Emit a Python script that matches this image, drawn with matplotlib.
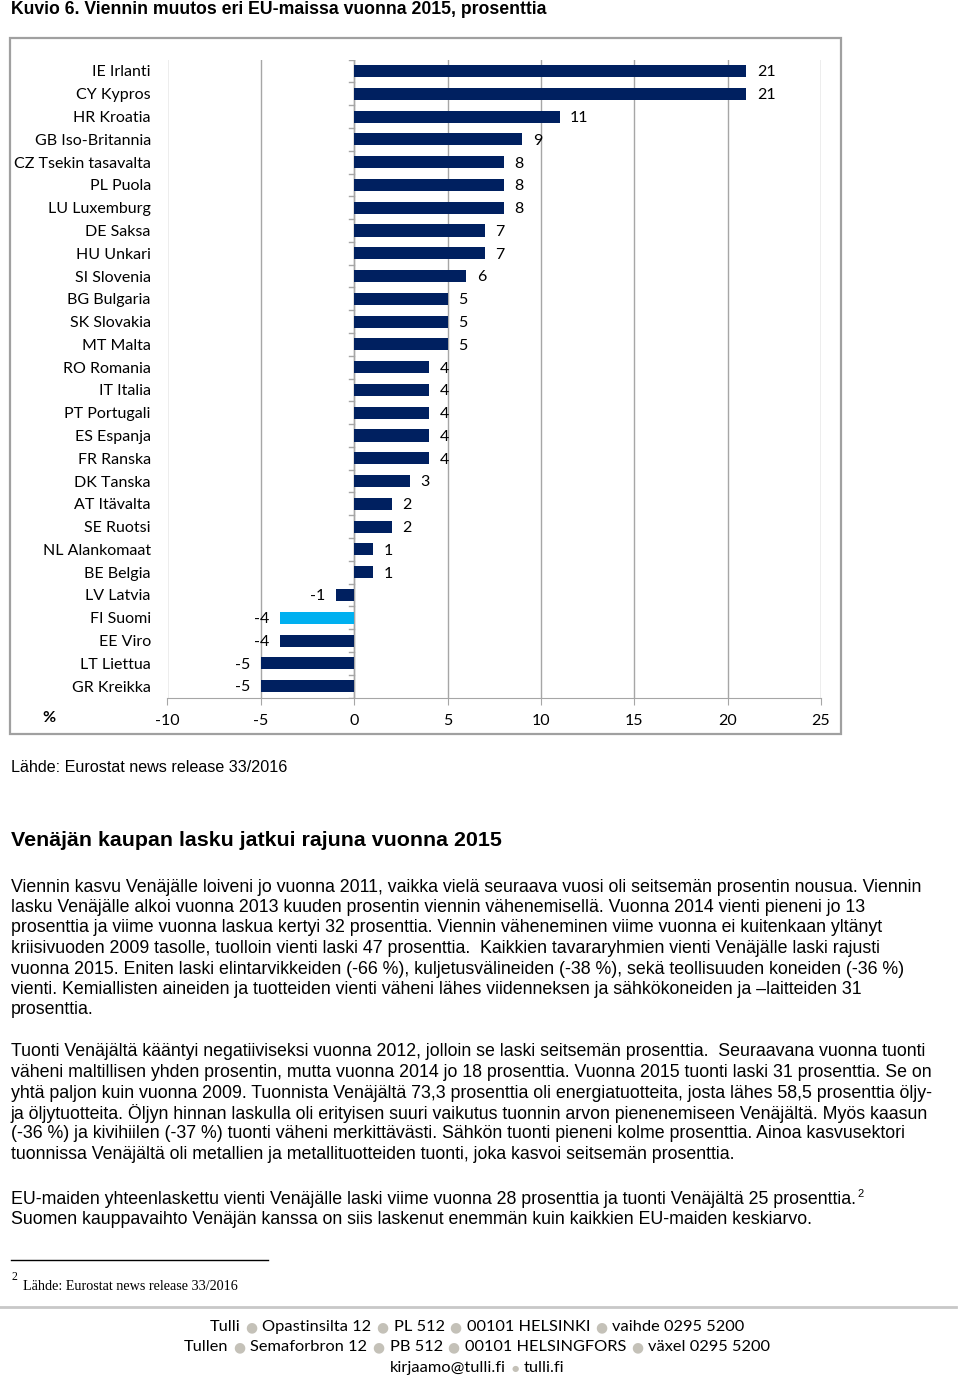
import matplotlib
matplotlib.use("Agg")
import matplotlib.pyplot as plt
from matplotlib.patches import Rectangle
from matplotlib.lines import Line2D

W, H = 960, 1379

countries = ["IE Irlanti", "CY Kypros", "HR Kroatia", "GB Iso-Britannia",
             "CZ Tsekin tasavalta", "PL Puola", "LU Luxemburg", "DE Saksa",
             "HU Unkari", "SI Slovenia", "BG Bulgaria", "SK Slovakia",
             "MT Malta", "RO Romania", "IT Italia", "PT Portugali",
             "ES Espanja", "FR Ranska", "DK Tanska", "AT Itävalta",
             "SE Ruotsi", "NL Alankomaat", "BE Belgia", "LV Latvia",
             "FI Suomi", "EE Viro", "LT Liettua", "GR Kreikka"]
values = [21, 21, 11, 9, 8, 8, 8, 7, 7, 6, 5, 5, 5, 4, 4, 4, 4, 4, 3, 2, 2,
          1, 1, -1, -4, -4, -5, -5]
highlight = "FI Suomi"
xticks = [-10, -5, 0, 5, 10, 15, 20, 25]

navy = "#002060"
light_blue = "#00b0f0"
grid_gray = "#a6a6a6"

title = "Kuvio 6. Viennin muutos eri EU-maissa vuonna 2015, prosenttia"
source = "Lähde: Eurostat news release 33/2016"
heading = "Venäjän kaupan lasku jatkui rajuna vuonna 2015"

para1 = [
    "Viennin kasvu Venäjälle loiveni jo vuonna 2011, vaikka vielä seuraava vuosi oli seitsemän prosentin nousua. Viennin",
    "lasku Venäjälle alkoi vuonna 2013 kuuden prosentin viennin vähenemisellä. Vuonna 2014 vienti pieneni jo 13",
    "prosenttia ja viime vuonna laskua kertyi 32 prosenttia. Viennin väheneminen viime vuonna ei kuitenkaan yltänyt",
    "kriisivuoden 2009 tasolle, tuolloin vienti laski 47 prosenttia.  Kaikkien tavararyhmien vienti Venäjälle laski rajusti",
    "vuonna 2015. Eniten laski elintarvikkeiden (-66 %), kuljetusvälineiden (-38 %), sekä teollisuuden koneiden (-36 %)",
    "vienti. Kemiallisten aineiden ja tuotteiden vienti väheni lähes viidenneksen ja sähkökoneiden ja \u2013laitteiden 31",
    "prosenttia.",
]
para2 = [
    "Tuonti Venäjältä kääntyi negatiiviseksi vuonna 2012, jolloin se laski seitsemän prosenttia.  Seuraavana vuonna tuonti",
    "väheni maltillisen yhden prosentin, mutta vuonna 2014 jo 18 prosenttia. Vuonna 2015 tuonti laski 31 prosenttia. Se on",
    "yhtä paljon kuin vuonna 2009. Tuonnista Venäjältä 73,3 prosenttia oli energiatuotteita, josta lähes 58,5 prosenttia öljy-",
    "ja öljytuotteita. Öljyn hinnan laskulla oli erityisen suuri vaikutus tuonnin arvon pienenemiseen Venäjältä. Myös kaasun",
    "(-36 %) ja kivihiilen (-37 %) tuonti väheni merkittävästi. Sähkön tuonti pieneni kolme prosenttia. Ainoa kasvusektori",
    "tuonnissa Venäjältä oli metallien ja metallituotteiden tuonti, joka kasvoi seitsemän prosenttia.",
]
para3 = [
    "EU-maiden yhteenlaskettu vienti Venäjälle laski viime vuonna 28 prosenttia ja tuonti Venäjältä 25 prosenttia.",
    "Suomen kauppavaihto Venäjän kanssa on siis laskenut enemmän kuin kaikkien EU-maiden keskiarvo.",
]
footnote = "Lähde: Eurostat news release 33/2016"
footer1 = ["Tulli", "Opastinsilta 12", "PL 512", "00101 HELSINKI", "vaihde 0295 5200"]
footer2 = ["Tullen", "Semaforbron 12", "PB 512", "00101 HELSINGFORS", "växel 0295 5200"]
footer3 = ["kirjaamo@tulli.fi", "tulli.fi"]


def fx(x):
    return x / W


def fy(y):
    return 1 - y / H


fig = plt.figure(figsize=(W / 100, H / 100), dpi=100)
fig.patch.set_facecolor("white")

chart_font = ["Lato", "DejaVu Sans"]
body_font = "Liberation Sans"

# frame of the chart
fig.patches.append(Rectangle((fx(10), fy(734)), fx(841) - fx(10), fy(38) - fy(734),
                             transform=fig.transFigure, fill=False,
                             edgecolor="#a0a0a0", linewidth=1.6))

# bar chart
ax = fig.add_axes([fx(167.5), fy(697.5), fx(821) - fx(167.5), fy(59.6) - fy(697.5)])
n = len(countries)
ypos = list(range(n))
colors = [light_blue if c == highlight else navy for c in countries]
ax.barh(ypos, values, height=0.53, color=colors, zorder=3)
ax.set_ylim(n - 0.5, -0.5)
ax.set_xlim(xticks[0], xticks[-1])
ax.set_xticks(xticks)
ax.set_xticklabels([str(t) for t in xticks], fontfamily=chart_font, fontsize=11.5)
ax.set_yticks(ypos)
ax.set_yticklabels(countries, fontfamily=chart_font, fontsize=11.5)
ax.tick_params(axis="y", length=0, pad=12)
ax.tick_params(axis="x", length=5, color=grid_gray, pad=7)
for s in ["top", "right", "left"]:
    ax.spines[s].set_visible(False)
ax.spines["bottom"].set_color(grid_gray)
ax.grid(axis="x", color=grid_gray, linewidth=1, zorder=1)

# vertical axis at zero with small ticks between categories
ax.axvline(0, color=grid_gray, linewidth=1, zorder=2)
for b in range(n + 1):
    ax.plot([-0.28, 0], [b - 0.5, b - 0.5], color=grid_gray, linewidth=1, zorder=2)

for y, v in zip(ypos, values):
    if v >= 0:
        ax.annotate(str(v), (v, y), xytext=(7.5, -1), textcoords="offset points",
                    ha="left", va="center", fontfamily=chart_font, fontsize=11.5, zorder=4)
    else:
        ax.annotate(str(v), (v, y), xytext=(-7.5, -1), textcoords="offset points",
                    ha="right", va="center", fontfamily=chart_font, fontsize=11.5, zorder=4)

fig.text(fx(42), fy(718), "%", fontfamily=chart_font, fontsize=11.5, fontweight="bold",
         va="center", ha="left")

# page texts
fig.text(fx(11), fy(14.5), title, fontfamily=body_font, fontsize=12.7, fontweight="bold",
         va="baseline", ha="left")
fig.text(fx(11), fy(768), source, fontfamily=body_font, fontsize=11.6, va="center", ha="left")
fig.text(fx(11), fy(840), heading, fontfamily=body_font, fontsize=15.4, fontweight="bold",
         va="center", ha="left")

body_size = 12.8
line_gap = 20.5
for i, line in enumerate(para1):
    fig.text(fx(11), fy(887 + i * line_gap), line, fontfamily=body_font, fontsize=body_size,
             va="center", ha="left")
for i, line in enumerate(para2):
    fig.text(fx(11), fy(1052 + i * line_gap), line, fontfamily=body_font, fontsize=body_size,
             va="center", ha="left")
p3 = []
for i, line in enumerate(para3):
    p3.append(fig.text(fx(11), fy(1199 + i * line_gap), line, fontfamily=body_font,
                       fontsize=body_size, va="center", ha="left"))

renderer = fig.canvas.get_renderer()
ext = p3[0].get_window_extent(renderer)
fig.text(ext.x1 / W + 0.001, fy(1194), "2", fontfamily=body_font, fontsize=8,
         va="center", ha="left")

# footnote
fig.add_artist(Line2D([fx(11), fx(268)], [fy(1260), fy(1260)], color="black", linewidth=1))
fig.text(fx(11), fy(1277), "2", fontfamily="Liberation Serif", fontsize=8.5, va="center", ha="left")
fig.text(fx(23), fy(1286), footnote, fontfamily="Liberation Serif", fontsize=10.2,
         va="center", ha="left")

fig.add_artist(Line2D([0, fx(956)], [fy(1307), fy(1307)], color="#c8c8c8", linewidth=2))


def footer_line(parts, y, size, dot_size, gap=5):
    items = []
    for i, p in enumerate(parts):
        if i > 0:
            items.append(("\u25cf", "#c4c1b8", dot_size))
        items.append((p, "black", size))
    texts = []
    widths = []
    for t, c, s in items:
        tx = fig.text(0, fy(y), t, fontfamily=["DejaVu Sans"] if t == "\u25cf" else chart_font,
                      fontsize=s, color=c, va="center", ha="left")
        texts.append(tx)
        widths.append(tx.get_window_extent(renderer).width)
    total = sum(widths) + gap * (len(items) - 1)
    x = 477 - total / 2
    for tx, w in zip(texts, widths):
        tx.set_x(x / W)
        x += w + gap


footer_line(footer1, 1327, 11.8, 10)
footer_line(footer2, 1347, 11.8, 10)
footer_line(footer3, 1368, 11.8, 6)

fig.savefig("out.png", dpi=100)
